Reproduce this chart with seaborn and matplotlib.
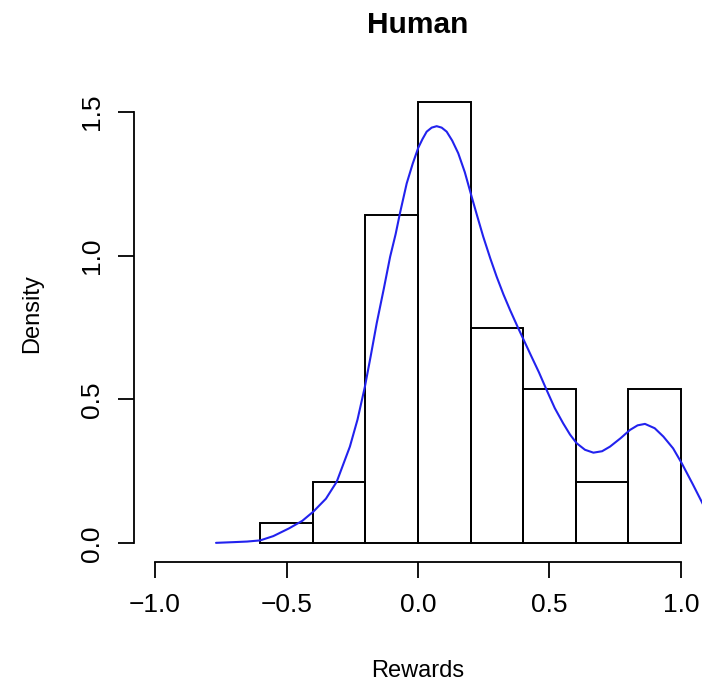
import matplotlib
matplotlib.use("Agg")
import matplotlib.pyplot as plt
import seaborn as sns

# Histogram data (bin edges and counts, n = 140)
bin_edges = [-0.6, -0.4, -0.2, 0.0, 0.2, 0.4, 0.6, 0.8, 1.0]
bin_counts = [2, 6, 32, 43, 21, 15, 6, 15]

# Density curve
dens_x = [-0.768, -0.70, -0.65, -0.60, -0.55, -0.49, -0.44, -0.398, -0.35, -0.309,
          -0.259, -0.23, -0.202, -0.18, -0.157, -0.13, -0.106, -0.085, -0.068, -0.043,
          -0.02, 0.001, 0.017, 0.033, 0.052, 0.071, 0.09, 0.109, 0.13, 0.153,
          0.178, 0.204, 0.225, 0.248, 0.275, 0.299, 0.325, 0.350, 0.38, 0.43,
          0.46, 0.489, 0.52, 0.552, 0.578, 0.603, 0.635, 0.667, 0.70, 0.730,
          0.77, 0.806, 0.835, 0.863, 0.90, 0.933, 0.97, 1.003, 1.045, 1.085]
dens_y = [0.0015, 0.004, 0.006, 0.010, 0.025, 0.052, 0.078, 0.110, 0.155, 0.214,
          0.336, 0.43, 0.544, 0.65, 0.765, 0.885, 0.996, 1.075, 1.150, 1.251,
          1.32, 1.375, 1.405, 1.431, 1.445, 1.450, 1.445, 1.431, 1.40, 1.356,
          1.29, 1.205, 1.138, 1.066, 0.99, 0.927, 0.865, 0.811, 0.75, 0.652,
          0.594, 0.533, 0.47, 0.417, 0.378, 0.348, 0.325, 0.315, 0.320, 0.336,
          0.365, 0.394, 0.41, 0.415, 0.40, 0.371, 0.33, 0.278, 0.205, 0.133]

x_ticks = [-1.0, -0.5, 0.0, 0.5, 1.0]
x_tick_labels = ["\u22121.0", "\u22120.5", "0.0", "0.5", "1.0"]
y_ticks = [0.0, 0.5, 1.0, 1.5]
y_tick_labels = ["0.0", "0.5", "1.0", "1.5"]

sns.set_theme(style="ticks")
plt.rcParams['font.family'] = ['Liberation Sans', 'DejaVu Sans']
plt.rcParams['text.color'] = 'black'
plt.rcParams['axes.labelcolor'] = 'black'

fig = plt.figure(figsize=(7.04, 6.81), dpi=100)
ax = fig.add_axes([0.1903, 0.1752, 0.8069, 0.7299])

centers = [(a + b) / 2 for a, b in zip(bin_edges[:-1], bin_edges[1:])]
sns.histplot(x=centers, weights=bin_counts, bins=bin_edges, stat="density",
             fill=False, color="black", linewidth=1.4, ax=ax)
sns.lineplot(x=dens_x, y=dens_y, color="#2222ee", linewidth=1.5, ax=ax)

ax.set_xlim(-1.08, 1.08)
ax.set_ylim(-0.064, 1.664)
ax.set_xticks(x_ticks)
ax.set_xticklabels(x_tick_labels)
ax.set_yticks(y_ticks)
ax.set_yticklabels(y_tick_labels)

for s in ["top", "right"]:
    ax.spines[s].set_visible(False)
for s in ["left", "bottom"]:
    ax.spines[s].set_linewidth(1.3)
    ax.spines[s].set_color("black")
ax.spines["left"].set_bounds(0, 1.5)
ax.spines["bottom"].set_bounds(-1, 1)

ax.tick_params(axis="both", length=11.2, width=1.3, color="black",
               labelsize=19, labelcolor="black")
ax.tick_params(axis="x", pad=11)
ax.tick_params(axis="y", pad=10.5)
for lab in ax.get_yticklabels():
    lab.set_rotation(90)
    lab.set_va("center")

ax.set_title("Human", fontsize=21.5, fontweight="bold", pad=22.5, color="black")
ax.set_xlabel("Rewards", fontsize=17, color="black")
ax.set_ylabel("Density", fontsize=17, color="black")
ax.xaxis.label.set_va("baseline")
ax.xaxis.set_label_coords(0.5, -0.2313)
ax.yaxis.label.set_va("baseline")
ax.yaxis.set_label_coords(-0.1695, 0.5)

fig.savefig("out.png", dpi=100)
